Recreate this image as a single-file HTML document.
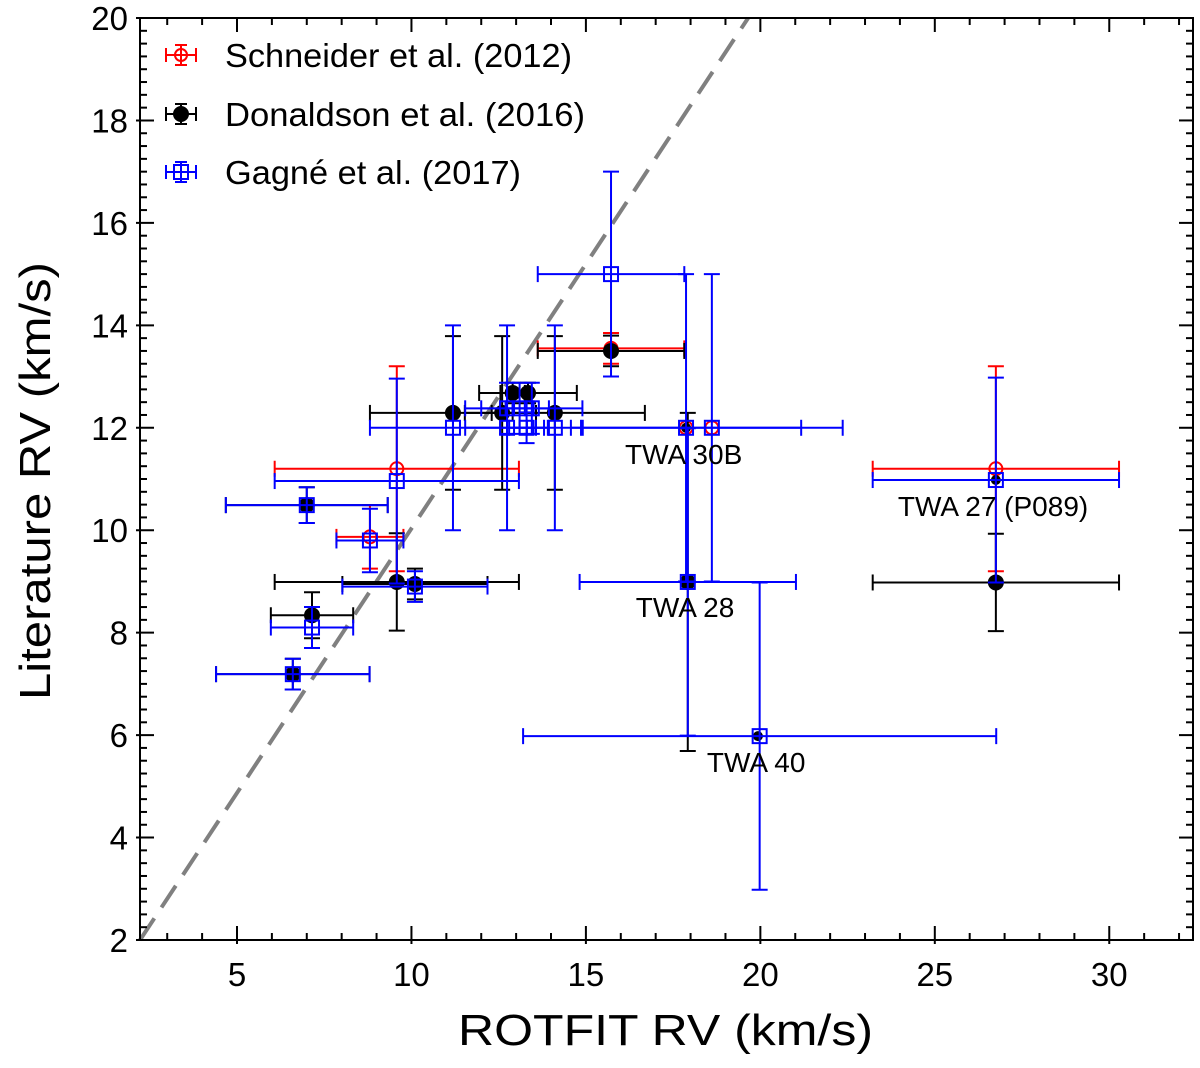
<!DOCTYPE html>
<html><head><meta charset="utf-8"><style>
html,body{margin:0;padding:0;background:#fff;}
svg text{font-family:"Liberation Sans","DejaVu Sans",sans-serif;}
</style></head><body>
<svg id="chart" width="1200" height="1063" viewBox="0 0 1200 1063" xmlns="http://www.w3.org/2000/svg">
<g id="plot"></g>
</svg>
<script>
// ---- data ----
const xTicks = [5, 10, 15, 20, 25, 30];
const yTicks = [2, 4, 6, 8, 10, 12, 14, 16, 18, 20];
// Schneider et al. (2012)
const schX   = [9.58, 8.81, 15.72, 26.75, 17.87, 18.61];
const schY   = [11.2, 9.87, 13.55, 11.2, 12.0, 12.0];
const schXe  = [3.5, 0.96, 2.1, 3.53, 0, 0];
const schYe  = [2.0, 0.62, 0.3, 2.0, 0, 0];
// Donaldson et al. (2016)
const donX   = [7.0, 7.15, 6.6, 9.58, 10.1, 11.19, 12.6, 12.9, 13.34, 14.11, 15.72, 17.87, 17.92, 19.93, 26.75, 26.75];
const donY   = [10.49, 8.34, 7.19, 8.99, 8.95, 12.29, 12.29, 12.68, 12.68, 12.29, 13.5, 12.0, 8.99, 5.98, 10.98, 8.98];
const donXe  = [2.32, 1.18, 2.2, 3.5, 2.08, 2.38, 0.3, 0.35, 1.4, 2.58, 2.1, 0, 0, 0, 0, 3.53];
const donYe  = [0.35, 0.45, 0.3, 0.95, 0.3, 1.5, 1.5, 0.2, 0.2, 1.5, 0.3, 0, 3.3, 0, 0, 0.95];
// Gagné et al. (2017)
const gagX   = [7.0, 7.15, 6.6, 8.81, 9.58, 10.1, 11.19, 12.74, 12.74, 13.1, 13.45, 13.3, 14.11, 15.72, 17.87, 18.61, 17.92, 19.98, 26.75];
const gagY   = [10.49, 8.1, 7.19, 9.8, 10.96, 8.9, 12.0, 12.0, 12.38, 12.38, 12.38, 12.0, 12.0, 15.0, 12.0, 12.0, 8.99, 5.98, 10.98];
const gagXe  = [2.32, 1.18, 2.2, 0.96, 3.5, 2.08, 2.38, 1.2, 1.2, 0.4, 1.45, 0.5, 0.8, 2.1, 3.3, 3.75, 3.1, 6.78, 3.53];
const gagYe  = [0.35, 0.4, 0.3, 0.62, 2.0, 0.3, 2.0, 2.0, 0.5, 0.5, 0.5, 0.3, 2.0, 2.0, 3.0, 3.0, 3.0, 3.0, 2.0];
const labels = ["TWA 30B", "TWA 28", "TWA 40", "TWA 27 (P089)"];
const labX   = [17.87, 17.92, 19.93, 26.75];
const labY   = [12.0, 8.99, 5.98, 10.98];

// ---- axes ----
const L=140, R=1193, T=18, B=940;
const xmin=2.22, xmax=32.4, ymin=2, ymax=20;
const sx = v => L + (v - xmin) / (xmax - xmin) * (R - L);
const sy = v => B - (v - ymin) / (ymax - ymin) * (B - T);
const NS = "http://www.w3.org/2000/svg";
const g = document.getElementById('plot');
function mk(tag, attrs, parent){ const e=document.createElementNS(NS,tag); for(const k in attrs) e.setAttribute(k,attrs[k]); (parent||g).appendChild(e); return e; }

const dl = mk('line',{x1:sx(2.22),y1:sy(2),x2:sx(19.65),y2:sy(20),stroke:'#808080','stroke-width':4,'stroke-dasharray':'26,13'});



function series(xs, ys, xe, ye, color, name, marker){
  const sg = mk('g',{});
  
  
  for(let i=0;i<xs.length;i++){
    const cx=sx(xs[i]), cy=sy(ys[i]);
    const pg = mk('g',{stroke:color,'stroke-width':2,fill:'none'},sg);
    
    
    if(xe[i]>0){
      mk('line',{x1:sx(xs[i]-xe[i]),y1:cy,x2:sx(xs[i]+xe[i]),y2:cy},pg);
      mk('line',{x1:sx(xs[i]-xe[i]),y1:cy-8,x2:sx(xs[i]-xe[i]),y2:cy+8},pg);
      mk('line',{x1:sx(xs[i]+xe[i]),y1:cy-8,x2:sx(xs[i]+xe[i]),y2:cy+8},pg);
    }
    if(ye[i]>0){
      mk('line',{x1:cx,y1:sy(ys[i]-ye[i]),x2:cx,y2:sy(ys[i]+ye[i])},pg);
      mk('line',{x1:cx-8,y1:sy(ys[i]-ye[i]),x2:cx+8,y2:sy(ys[i]-ye[i])},pg);
      mk('line',{x1:cx-8,y1:sy(ys[i]+ye[i]),x2:cx+8,y2:sy(ys[i]+ye[i])},pg);
    }
    if(marker==='circle') mk('circle',{cx:cx,cy:cy,r:6.5,fill:'none'},pg);
    else if(marker==='dot') mk('circle',{cx:cx,cy:cy,r:(xe[i]>0||ye[i]>0)?7:4,fill:color},pg);
    else mk('rect',{x:cx-7,y:cy-7,width:14,height:14,fill:'none'},pg);
  }
}
series(schX, schY, schXe, schYe, '#ff0000', 'schneider-series', 'circle');
series(donX, donY, donXe, donYe, '#000000', 'donaldson-series', 'dot');
series(gagX, gagY, gagXe, gagYe, '#0000ff', 'gagne-series', 'square');

const offs=[[-61,36],[-52,35],[-51,36],[-98,36]];
labels.forEach((t,i)=>{
  const e = mk('text',{x:sx(labX[i])+offs[i][0],y:sy(labY[i])+offs[i][1],'font-size':28,fill:'#000'});
  e.textContent=t;
  
  
});

const fr = mk('rect',{x:L,y:T,width:R-L,height:B-T,fill:'none',stroke:'#000','stroke-width':2});



for(let v=3; v<=32; v++){
  const major = v%5===0, len = major?14:7, x=sx(v);
  mk('line',{x1:x,y1:B+(major?4:0),x2:x,y2:B-len,stroke:'#000','stroke-width':2});
  mk('line',{x1:x,y1:T,x2:x,y2:T+len,stroke:'#000','stroke-width':2});
}
for(let k=8; k<=80; k++){
  const v=k/4, major = k%8===0, len=major?14:7, y=sy(v);
  mk('line',{x1:L-(major?4:0),y1:y,x2:L+len,y2:y,stroke:'#000','stroke-width':2});
  mk('line',{x1:R,y1:y,x2:R-len,y2:y,stroke:'#000','stroke-width':2});
}
xTicks.forEach(v=>{
  const e=mk('text',{x:sx(v),y:986,'font-size':33,'text-anchor':'middle',fill:'#000'});
  e.textContent=v;
  
  
});
yTicks.forEach(v=>{
  const e=mk('text',{x:128,y:sy(v)+12,'font-size':33,'text-anchor':'end',fill:'#000'});
  e.textContent=v;
  
  
});
const xt=mk('text',{x:458,y:1045,'font-size':44,textLength:415,lengthAdjust:'spacingAndGlyphs',fill:'#000'});
xt.textContent='ROTFIT RV (km/s)';


const yt=mk('text',{x:-219,y:0,'font-size':44,textLength:438,lengthAdjust:'spacingAndGlyphs',fill:'#000',transform:'translate(50,481) rotate(-90)'});
yt.textContent='Literature RV (km/s)';



const leg=[['Schneider et al. (2012)','#ff0000','circle',55,347],['Donaldson et al. (2016)','#000','dot',114,360],['Gagné et al. (2017)','#0000ff','square',172,296]];
leg.forEach(([t,c,m,y,w])=>{
  const lg=mk('g',{stroke:c,'stroke-width':2,fill:'none'});
  
  
  const cx=181;
  mk('line',{x1:166,y1:y,x2:196,y2:y},lg);
  mk('line',{x1:166,y1:y-7,x2:166,y2:y+7},lg);
  mk('line',{x1:196,y1:y-7,x2:196,y2:y+7},lg);
  mk('line',{x1:cx,y1:y-10,x2:cx,y2:y+10},lg);
  mk('line',{x1:cx-6,y1:y-10,x2:cx+6,y2:y-10},lg);
  mk('line',{x1:cx-6,y1:y+10,x2:cx+6,y2:y+10},lg);
  if(m==='circle') mk('circle',{cx:cx,cy:y,r:6},lg);
  else if(m==='dot') mk('circle',{cx:cx,cy:y,r:7,fill:c},lg);
  else mk('rect',{x:cx-7,y:y-7,width:14,height:14},lg);
  const e=mk('text',{x:225,y:y+12,'font-size':33,textLength:w,lengthAdjust:'spacingAndGlyphs',fill:'#000',stroke:'none'});
  e.textContent=t;
  
  
});
</script>
</body></html>
